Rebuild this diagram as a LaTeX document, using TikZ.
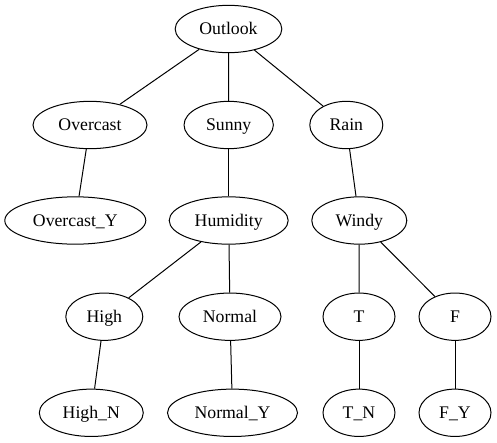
\documentclass[tikz,border=0pt]{standalone}
\usepackage{fontspec}
\setmainfont{Liberation Serif}
\usetikzlibrary{shapes.geometric}
\begin{document}
\begin{tikzpicture}[x=0.75pt,y=-0.75pt,
  tnode/.style={draw, ellipse, inner sep=0pt, minimum height=35.5pt, line width=0.75pt,
    text height=8.6pt, text depth=0pt,
    font=\fontsize{13.3}{15}\selectfont},
  tedge/.style={line width=0.75pt}]
\useasboundingbox (0,0) rectangle (497,443);
\node[tnode, minimum width=80pt]    (outlook)   at (228.5,29)  {Outlook};
\node[tnode, minimum width=85.5pt]  (overcast)  at (90,125)    {Overcast};
\node[tnode, minimum width=67pt]    (sunny)     at (228.7,125) {Sunny};
\node[tnode, minimum width=54.75pt] (rain)      at (346.3,125) {Rain};
\node[tnode, minimum width=105.75pt](overcasty) at (75.3,220.5){Overcast\_Y};
\node[tnode, minimum width=89.25pt] (humidity)  at (228.7,220.5){Humidity};
\node[tnode, minimum width=71.25pt] (windy)     at (359.3,220.5){Windy};
\node[tnode, minimum width=57.75pt] (high)      at (104.3,316.7){High};
\node[tnode, minimum width=76.5pt]  (normal)    at (230,316.7) {Normal};
\node[tnode, minimum width=54pt]    (t)         at (359,316.7) {T};
\node[tnode, minimum width=54pt]    (f)         at (455,316.7) {F};
\node[tnode, minimum width=78pt]    (highn)     at (91.3,412.8){High\_N};
\node[tnode, minimum width=97.5pt]  (normaly)   at (232.5,412.8){Normal\_Y};
\node[tnode, minimum width=54pt]    (tn)        at (359,412.8) {T\_N};
\node[tnode, minimum width=54pt]    (fy)        at (455,412.8) {F\_Y};
\draw[tedge] (outlook) -- (overcast);
\draw[tedge] (outlook) -- (sunny);
\draw[tedge] (outlook) -- (rain);
\draw[tedge] (overcast) -- (overcasty);
\draw[tedge] (sunny) -- (humidity);
\draw[tedge] (rain) -- (windy);
\draw[tedge] (humidity) -- (high);
\draw[tedge] (humidity) -- (normal);
\draw[tedge] (windy) -- (t);
\draw[tedge] (windy) -- (f);
\draw[tedge] (high) -- (highn);
\draw[tedge] (normal) -- (normaly);
\draw[tedge] (t) -- (tn);
\draw[tedge] (f) -- (fy);
\end{tikzpicture}
\end{document}
